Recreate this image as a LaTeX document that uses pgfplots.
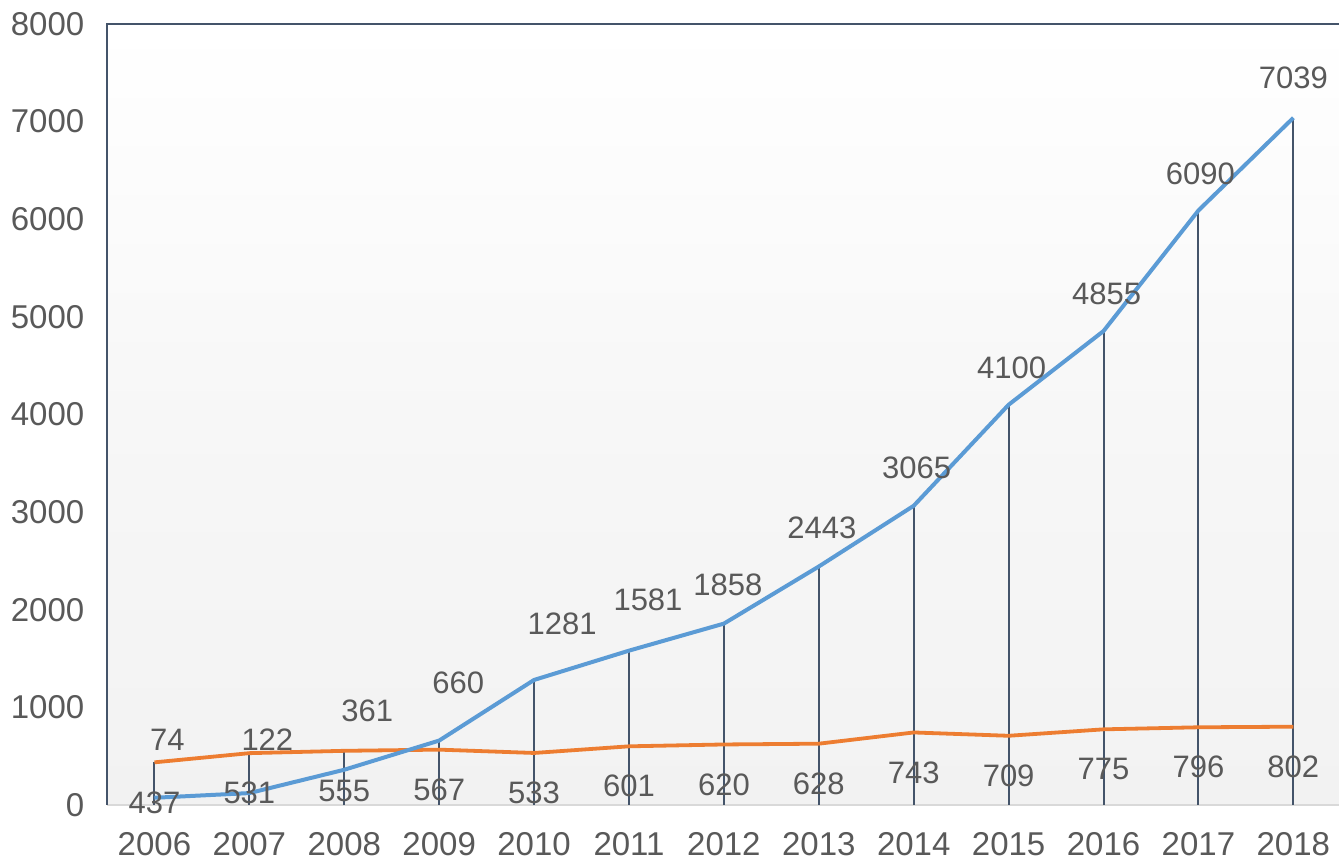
\documentclass[border=0pt]{standalone}
\usepackage{fontspec}
\setmainfont{Liberation Sans}
\usepackage{pgfplots}
\pgfplotsset{compat=1.18}
\usepackage{pgfplotstable}
\definecolor{lblue}{HTML}{5B9BD5}
\definecolor{lorange}{HTML}{ED7D31}
\definecolor{slate}{HTML}{44546A}
\definecolor{txt}{HTML}{595959}
\definecolor{bgray}{HTML}{D9D9D9}

% blue series, with label offsets (pt)
\pgfplotstableread{
x y dx dy
0 74 6.5 29
1 122 9 26.5
2 361 11.5 29.5
3 660 9.5 29
4 1281 14 28
5 1581 9.5 25.5
6 1858 2 19.5
7 2443 1.5 19.5
8 3065 1.5 19
9 4100 1.5 18.5
10 4855 1.5 18.5
11 6090 1 18.5
12 7039 0 20
}\blueseries

\pgfplotstableread{
x y
0 437
1 531
2 555
3 567
4 533
5 601
6 620
7 628
8 743
9 709
10 775
11 796
12 802
}\orangeseries

% drop lines: from the higher of the two series down to 0
\pgfplotstableread{
x y
0 437
1 531
2 555
3 660
4 1281
5 1581
6 1858
7 2443
8 3065
9 4100
10 4855
11 6090
12 7039
}\droplines

\begin{document}
\fontsize{15.5}{18}\selectfont
\begin{tikzpicture}
\useasboundingbox (0,0) rectangle (669.5pt,431pt);
\clip (0,0) rectangle (669.5pt,431pt);
\begin{axis}[
    at={(53.5pt,28.5pt)}, anchor=south west,
    scale only axis,
    width=616.9pt, height=390.5pt,
    xmin=-0.5, xmax=12.5,
    ymin=0, ymax=8000,
    xtick={0,...,12},
    xticklabels={2006,2007,2008,2009,2010,2011,2012,2013,2014,2015,2016,2017,2018},
    ytick={0,1000,...,8000},
    scaled y ticks=false,
    /pgf/number format/1000 sep={},
    major tick length=0pt,
    axis line style={draw=none},
    ticklabel style={text=txt, font=\fontsize{16.5}{19}\selectfont},
    /pgf/number format/assume math mode=true,
    yticklabel style={xshift=-6pt},
    xticklabel style={yshift=-8.5pt},
    axis background/.style={shade, top color=white, bottom color={rgb,255:red,242;green,242;blue,242}, middle color={rgb,255:red,247;green,247;blue,247}},
    clip=false,
]
\draw[bgray, line width=1.2pt] (rel axis cs:0,0) -- (rel axis cs:1,0);
\addplot[ycomb, slate, line width=1pt, no markers] table[x=x,y=y] {\droplines};
\draw[slate, line width=1pt] (rel axis cs:0,0) -- (rel axis cs:0,1) -- (rel axis cs:1,1);
\addplot[lorange, line width=1.9pt, line join=round, no markers,
    nodes near coords,
    every node near coord/.append style={anchor=center, yshift=-20pt, text=txt, font=\fontsize{15.5}{18}\selectfont},
] table[x=x,y=y] {\orangeseries};
\addplot[lblue, line width=2pt, line join=round, no markers,
    visualization depends on={\thisrow{dx} \as \dx},
    visualization depends on={\thisrow{dy} \as \dy},
    nodes near coords,
    every node near coord/.append style={anchor=center, xshift=\dx pt, yshift=\dy pt, text=txt, font=\fontsize{15.5}{18}\selectfont},
] table[x=x,y=y] {\blueseries};
\end{axis}
\end{tikzpicture}
\end{document}
